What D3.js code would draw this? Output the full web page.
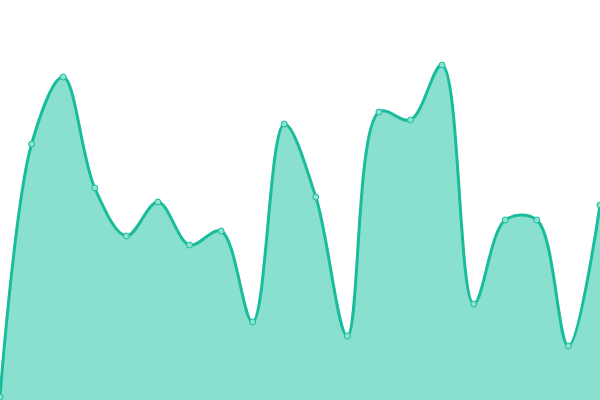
<!DOCTYPE html>
<html>
<head>
<meta charset="utf-8">
<script src="https://cdn.jsdelivr.net/npm/d3@7"></script>
<style>
  html, body { margin: 0; padding: 0; background: #fff; }
  svg { display: block; }
</style>
</head>
<body>
<div id="chart"></div>
<script>
// values (0 = bottom edge)
var categories = d3.range(20);
var values = [3, 256, 323, 212, 164, 198, 155, 169, 78, 276,
              203, 64, 288, 280, 335, 96, 180, 180, 54, 195];

var width = 600;
var height = 400;

var svg = d3.select('#chart').append('svg')
    .attr('width', width)
    .attr('height', height);

var x = d3.scaleLinear()
    .domain([0, categories.length - 1])
    .range([0, width]);
var y = d3.scaleLinear()
    .domain([0, 400])
    .range([height, 0]);

var area = d3.area()
    .x(function (d, i) { return x(i); })
    .y0(height)
    .y1(function (d) { return y(d); })
    .curve(d3.curveCatmullRom);

var line = d3.line()
    .x(function (d, i) { return x(i); })
    .y(function (d) { return y(d); })
    .curve(d3.curveCatmullRom);

svg.append('path')
    .datum(values)
    .attr('fill', '#89e0cf')
    .attr('d', area);

svg.append('path')
    .datum(values)
    .attr('fill', 'none')
    .attr('stroke', '#1abc9c')
    .attr('stroke-width', 3)
    .attr('stroke-linejoin', 'round')
    .attr('d', line);

svg.selectAll('.dot')
    .data(values)
    .enter().append('circle')
    .attr('class', 'dot')
    .attr('cx', function (d, i) { return x(i); })
    .attr('cy', function (d) { return y(d); })
    .attr('r', 3)
    .attr('fill', '#8ae3d2')
    .attr('stroke', '#1abc9c')
    .attr('stroke-width', 1);
</script>
</body>
</html>
